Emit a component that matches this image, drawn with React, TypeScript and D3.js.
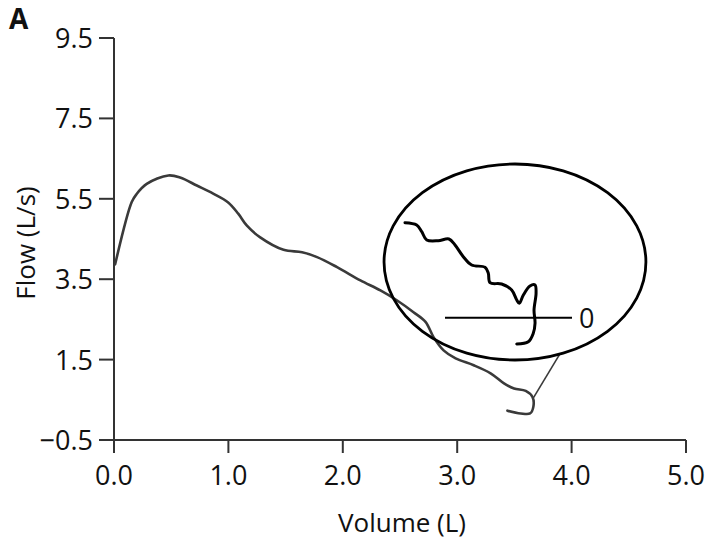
import React from "react";
import * as d3 from "d3";

// Main flow-volume curve (Volume in L, Flow in L/s)
const volume = [0.01, 0.155, 0.198, 0.286, 0.475, 0.578, 0.724, 0.867, 0.998, 1.086, 1.162, 1.278, 1.482, 1.644, 1.775, 1.95, 2.154, 2.329, 2.475, 2.618, 2.723, 2.793, 2.881, 2.986, 3.144, 3.292, 3.409, 3.497, 3.599, 3.658, 3.666, 3.637, 3.555, 3.439];
const flow = [3.87, 5.42, 5.62, 5.87, 6.08, 6.03, 5.83, 5.63, 5.41, 5.13, 4.83, 4.54, 4.23, 4.17, 4.05, 3.8, 3.47, 3.22, 2.97, 2.68, 2.44, 2.06, 1.73, 1.53, 1.36, 1.16, 0.91, 0.78, 0.72, 0.57, 0.33, 0.16, 0.16, 0.23];

const xTicks = [0, 1, 2, 3, 4, 5];
const yTicks = [-0.5, 1.5, 3.5, 5.5, 7.5, 9.5];

// Inset (magnified end of expiration), in inset units; zero line at v = 0
const insetU = [-0.315, -0.223, -0.183, -0.144, -0.053, 0.031, 0.079, 0.144, 0.21, 0.315, 0.341, 0.354, 0.446, 0.525, 0.565, 0.585, 0.617, 0.669, 0.709, 0.717, 0.701, 0.709, 0.695, 0.656, 0.565];
const insetV = [0.95, 0.927, 0.86, 0.777, 0.77, 0.787, 0.727, 0.61, 0.527, 0.504, 0.444, 0.35, 0.337, 0.277, 0.177, 0.144, 0.227, 0.317, 0.327, 0.244, 0.077, -0.056, -0.156, -0.24, -0.263];
const insetZeroLine = [0, 1];
const insetEllipse = { cu: 0.551, cv: 0.557, ru: 1.031, rv: 0.98 };
const connectorFrom = { vol: 3.666, flow: 0.55 };
const connectorAngleDeg = 70;

const FONT = "'Open Sans', sans-serif";

export default function App() {
  const x = d3.scaleLinear().domain([0, 5]).range([114, 686]);
  const y = d3.scaleLinear().domain([-0.5, 9.5]).range([440, 38]);

  const ix = d3.scaleLinear().domain([0, 1]).range([445, 572]);
  const iy = d3.scaleLinear().domain([0, 1]).range([317.7, 217.7]);

  const line = d3
    .line<number>()
    .x((_, i) => x(volume[i]))
    .y((_, i) => y(flow[i]))
    .curve(d3.curveCatmullRom.alpha(0.5));

  const insetLine = d3
    .line<number>()
    .x((_, i) => ix(insetU[i]))
    .y((_, i) => iy(insetV[i]))
    .curve(d3.curveCatmullRom.alpha(0.5));

  const ecx = ix(insetEllipse.cu);
  const ecy = iy(insetEllipse.cv);
  const erx = ix(insetEllipse.ru) - ix(0);
  const ery = iy(0) - iy(insetEllipse.rv);
  const a = (connectorAngleDeg * Math.PI) / 180;
  const connX = ecx + erx * Math.cos(a);
  const connY = ecy + ery * Math.sin(a);

  const axisColor = "#333";

  return (
    <svg width={721} height={540} style={{ position: "absolute", left: 0, top: 0, background: "#fff" }}>
      <rect width={721} height={540} fill="#fff" />
      <text x={9} y={29} fontFamily={FONT} fontWeight="bold" fontSize={28} fill="#111">A</text>

      {/* Y axis */}
      <line x1={x(0)} x2={x(0)} y1={y(9.5)} y2={453} stroke={axisColor} strokeWidth={2} />
      {yTicks.map((t) => (
        <g key={"y" + t}>
          <line x1={99} x2={x(0)} y1={y(t)} y2={y(t)} stroke={axisColor} strokeWidth={2} />
          <text x={93} y={y(t) + 10} textAnchor="end" fontFamily={FONT} fontSize={27} fill="#111">
            {t < 0 ? "\u2212" + Math.abs(t).toFixed(1) : t.toFixed(1)}
          </text>
        </g>
      ))}

      {/* X axis */}
      <line x1={x(0)} x2={x(5)} y1={y(-0.5)} y2={y(-0.5)} stroke={axisColor} strokeWidth={2} />
      {xTicks.map((t) => (
        <g key={"x" + t}>
          <line x1={x(t)} x2={x(t)} y1={y(-0.5)} y2={453} stroke={axisColor} strokeWidth={2} />
          <text x={x(t)} y={485} textAnchor="middle" fontFamily={FONT} fontSize={27} fill="#111">
            {t.toFixed(1)}
          </text>
        </g>
      ))}

      <text x={402} y={532} textAnchor="middle" fontFamily={FONT} fontSize={26} fill="#111">Volume (L)</text>
      <text
        transform={`translate(35,243) rotate(-90)`}
        textAnchor="middle"
        fontFamily={FONT}
        fontSize={26}
        fill="#111"
      >
        Flow (L/s)
      </text>

      {/* main curve */}
      <path d={line(volume) || ""} fill="none" stroke="#3a3a3a" strokeWidth={2.6} strokeLinejoin="round" strokeLinecap="round" />

      {/* connector */}
      <line x1={x(connectorFrom.vol)} y1={y(connectorFrom.flow)} x2={connX} y2={connY} stroke="#3a3a3a" strokeWidth={1.6} />

      {/* inset */}
      <ellipse cx={ecx} cy={ecy} rx={erx} ry={ery} fill="none" stroke="#000" strokeWidth={2.8} />
      <line x1={ix(insetZeroLine[0])} x2={ix(insetZeroLine[1])} y1={iy(0)} y2={iy(0)} stroke="#000" strokeWidth={2} />
      <path d={insetLine(insetU) || ""} fill="none" stroke="#000" strokeWidth={3} strokeLinejoin="round" strokeLinecap="round" />
      <text x={ix(1) + 7} y={iy(0) + 10} fontFamily={FONT} fontSize={27} fill="#111">0</text>
    </svg>
  );
}
